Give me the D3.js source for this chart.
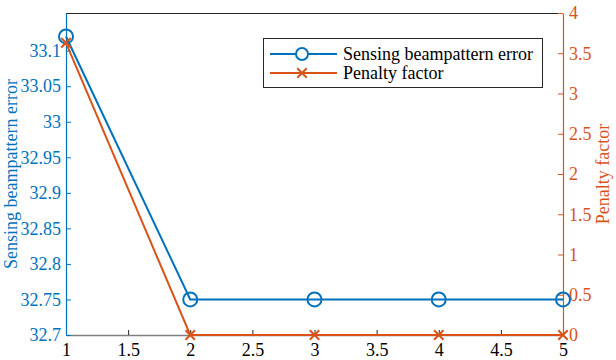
<!DOCTYPE html>
<html>
<head>
<meta charset="utf-8">
<script src="https://cdn.jsdelivr.net/npm/d3@7"></script>
<style>
  body { margin: 0; background: #fff; }
  svg text { font-family: 'Liberation Serif', 'Times New Roman', serif !important; }
</style>
</head>
<body>
<svg class="chart" width="616" height="360"></svg>
<script>
const iterations = [1, 2, 3, 4, 5]
const beamError = [33.12, 32.75, 32.75, 32.75, 32.75]
const penalty = [3.63, 0, 0, 0, 0]
const xTicks = [1, 1.5, 2, 2.5, 3, 3.5, 4, 4.5, 5]
const leftTicks = [32.7, 32.75, 32.8, 32.85, 32.9, 32.95, 33, 33.05, 33.1]
const rightTicks = [0, 0.5, 1, 1.5, 2, 2.5, 3, 3.5, 4]

const blue = '#0072BD'
const orange = '#D95319'
const fs = 18

const svg = d3.select('.chart')
const margin = { left: 66, right: 53, top: 13, bottom: 25 }
const width = +svg.attr('width')
const height = +svg.attr('height')

const x = d3.scaleLinear().domain([1, 5]).range([margin.left, width - margin.right])
const yL = d3.scaleLinear().domain([32.7, 33.153]).range([height - margin.bottom, margin.top])
const yR = d3.scaleLinear().domain([0, 4]).range([height - margin.bottom, margin.top])

const fmt = d => String(d)

// top box line
svg.append('line')
  .attr('x1', x(1)).attr('x2', x(5))
  .attr('y1', margin.top + 0.5).attr('y2', margin.top + 0.5)
  .attr('stroke', '#262626').attr('stroke-width', 1)

// x axis
const xAxis = svg.append('g')
  .attr('transform', `translate(0,${height - margin.bottom})`)
  .call(d3.axisBottom(x).tickValues(xTicks).tickFormat(fmt).tickSizeInner(-5).tickSizeOuter(0).tickPadding(8))
  .attr('font-family', 'Liberation Serif').attr('font-size', fs)
xAxis.select('.domain').attr('stroke', '#808080').attr('stroke-width', 1.5)
xAxis.selectAll('.tick line').attr('stroke', '#262626')
xAxis.selectAll('text').attr('fill', '#000')

// left axis
const leftAxis = svg.append('g')
  .attr('transform', `translate(${margin.left},0)`)
  .call(d3.axisLeft(yL).tickValues(leftTicks).tickFormat(fmt).tickSizeInner(-5).tickSizeOuter(0).tickPadding(5))
  .attr('font-family', 'Liberation Serif').attr('font-size', fs)
leftAxis.select('.domain').attr('stroke', blue).attr('stroke-width', 1.2)
leftAxis.selectAll('.tick line').attr('stroke', blue)
leftAxis.selectAll('text').attr('fill', blue)

// right axis
const rightAxis = svg.append('g')
  .attr('transform', `translate(${width - margin.right},0)`)
  .call(d3.axisRight(yR).tickValues(rightTicks).tickFormat(fmt).tickSizeInner(-5).tickSizeOuter(0).tickPadding(6))
  .attr('font-family', 'Liberation Serif').attr('font-size', fs)
rightAxis.select('.domain').attr('stroke', orange).attr('stroke-width', 1.2)
rightAxis.selectAll('.tick line').attr('stroke', orange)
rightAxis.selectAll('text').attr('fill', orange)

// axis labels
svg.append('text')
  .attr('transform', `translate(17,${(margin.top + height - margin.bottom) / 2}) rotate(-90)`)
  .attr('text-anchor', 'middle')
  .attr('fill', blue)
  .attr('font-size', fs)
  .text('Sensing beampattern error')

svg.append('text')
  .attr('transform', `translate(609,${(margin.top + height - margin.bottom) / 2}) rotate(-90)`)
  .attr('text-anchor', 'middle')
  .attr('fill', orange)
  .attr('font-size', fs)
  .text('Penalty factor')

// blue series
const blueLine = d3.line().x((d, i) => x(iterations[i])).y(d => yL(d))
svg.append('path')
  .datum(beamError)
  .attr('d', blueLine)
  .attr('fill', 'none').attr('stroke', blue).attr('stroke-width', 2)
svg.selectAll('.circ').data(beamError).enter().append('circle')
  .attr('cx', (d, i) => x(iterations[i]))
  .attr('cy', d => yL(d))
  .attr('r', 7)
  .attr('fill', 'none').attr('stroke', blue).attr('stroke-width', 2)

// orange series
const orangeLine = d3.line().x((d, i) => x(iterations[i])).y(d => yR(d))
svg.append('path')
  .datum(penalty)
  .attr('d', orangeLine)
  .attr('fill', 'none').attr('stroke', orange).attr('stroke-width', 2)
const cross = d3.symbol().type(d3.symbolX).size(60)
svg.selectAll('.cross').data(penalty).enter().append('path')
  .attr('d', cross)
  .attr('transform', (d, i) => `translate(${x(iterations[i])},${yR(d)})`)
  .attr('fill', 'none').attr('stroke', orange).attr('stroke-width', 2)

// legend
const lg = svg.append('g')
lg.append('rect')
  .attr('x', 263.5).attr('y', 38.5).attr('width', 279).attr('height', 49)
  .attr('fill', '#fff').attr('stroke', '#262626').attr('stroke-width', 1)
const items = [
  { label: 'Sensing beampattern error', color: blue, y: 54, mark: 'circle' },
  { label: 'Penalty factor', color: orange, y: 73, mark: 'x' }
]
items.forEach(it => {
  lg.append('line')
    .attr('x1', 270).attr('x2', 337).attr('y1', it.y).attr('y2', it.y)
    .attr('stroke', it.color).attr('stroke-width', 2)
  if (it.mark === 'circle') {
    lg.append('circle').attr('cx', 302).attr('cy', it.y).attr('r', 6)
      .attr('fill', '#fff').attr('stroke', it.color).attr('stroke-width', 2)
  } else {
    lg.append('path').attr('d', cross).attr('transform', `translate(302,${it.y})`)
      .attr('fill', 'none').attr('stroke', it.color).attr('stroke-width', 2)
  }
  lg.append('text')
    .attr('x', 343).attr('y', it.y + 6)
    .attr('fill', '#000')
    .attr('font-size', fs)
    .text(it.label)
})
</script>
</body>
</html>
